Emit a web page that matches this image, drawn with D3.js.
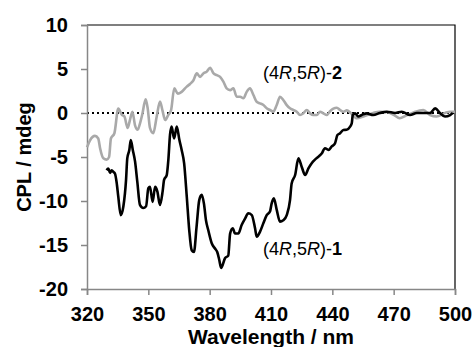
<!DOCTYPE html>
<html>
<head>
<meta charset="utf-8">
<script src="https://cdn.jsdelivr.net/npm/d3@7"></script>
<style>
  html, body { margin: 0; padding: 0; background: #fff; }
  svg { display: block; font-family: "Liberation Sans", Arial, sans-serif; }
</style>
</head>
<body>
<div id="chart"></div>
<script>
// (4R,5R)-2 spectrum (gray)
const grayWl = [320, 321.5, 323.9, 325.5, 326.4, 328, 329.6, 330.8, 331.7, 333.4, 335.3, 337, 338.3, 339.9, 341, 342.2,
  343.5, 344.8, 345.9, 347, 348.7, 349.7, 350.8, 352.4, 354.1, 355.7, 356.9, 358.2, 359.8, 361.1, 362.7, 364.4,
  366.3, 368.8, 370.4, 372, 373.7, 375.3, 376.9, 378.6, 380.2, 381.9, 383.5, 385.1, 386.7, 388.3, 390, 391.6,
  393.2, 394.9, 396.5, 398.1, 399.7, 401.4, 403, 404.6, 406.3, 407.9, 409.5, 411.1, 412.8, 414.4, 416, 417.7,
  419.3, 420.9, 422.6, 424.2, 425.8, 427.5, 429.1, 430.7, 432.4, 434, 435.6, 437.3, 438.9, 440.5, 442.2, 443.8,
  445.4, 447.1, 449, 452, 455.2, 460, 463, 467, 470, 473, 476, 480, 484.5, 487.8, 491, 495.1, 497.6, 500];
const grayCpl = [-3.9, -3.1, -2.6, -2.9, -4.0, -5.15, -5.3, -5.0, -2.9, -2.3, 0.5, -0.2, -0.4, -1.7, -0.8, 0.15,
  -1.4, -1.9, -1.2, -0.2, 1.55, 0.5, -1.7, -2.3, -0.4, 1.3, 0.3, -0.8, -0.2, 0.3, 2.8, 2.2,
  2.4, 3.0, 3.3, 3.7, 4.5, 4.1, 4.5, 4.7, 5.15, 4.5, 4.3, 4.1, 3.56, 2.8, 2.6, 2.8,
  1.85, 1.85, 1.67, 2.4, 2.8, 2.05, 1.28, 1.1, 0.9, 0.53, 0.34, 0.15, 0.9, 1.85, 1.48, 0.9,
  0.53, 0.34, 0.15, -0.23, -0.04, 0.34, -0.04, -0.23, -0.23, 0.15, -0.04, -0.23, 0.2, 0.5, 0.6, 0.34,
  0.15, 0.3, 0, -0.6, -0.4, 0, 0.15, 0.1, -0.2, -0.6, -0.3, 0.1, 0.34, -0.23, -0.4, 0, 0.15, 0.15];

// (4R,5R)-1 spectrum (black)
const blackWl = [329.6, 330.4, 331.3, 332.1, 332.9, 333.7, 334.5, 335.3, 336.5, 337.8, 339.1, 339.7, 340.7, 341.4,
  342.4, 343.5, 344.6, 345.9, 347.5, 348.9, 350, 350.8, 352.1, 353.3, 354.4, 355.7, 357, 357.7, 359, 359.8,
  360.6, 361.4, 362.6, 363.9, 365.2, 366.3, 367.5, 368.8, 370, 371.2, 372.3, 373.6, 374.9, 376.1, 377.2, 378.2,
  379.3, 381, 382.6, 383.7, 384.7, 385.6, 387.5, 389.1, 390, 391.3, 392.4, 394, 395.7, 397.3, 398.9, 400.6,
  402.2, 403, 404.6, 406.3, 407.9, 409.5, 410.3, 411.4, 412.8, 414.4, 416, 417.7, 419.3, 420.1, 421.8, 423.4,
  425, 426.7, 428.3, 429.9, 431.5, 433.2, 434.8, 436.4, 438.1, 439.7, 441.3, 442.5, 443.8, 445.4, 447, 448.7,
  449.5, 450, 451.1, 452.7, 454.4, 456.8, 460, 463.3, 466.6, 470.7, 474, 478, 481.3, 484.5, 487.8, 490.3,
  492.7, 495.1, 497.6, 498.9];
const blackCpl = [-6.5, -6.3, -6.8, -6.5, -6.7, -6.9, -7.9, -9.5, -11.6, -10.6, -7.6, -5.15, -4.2, -3.07,
  -4.2, -5.5, -7.8, -10.45, -10.8, -10.6, -8.55, -8.4, -10.1, -8.4, -8.9, -10.45, -8.9, -7.6, -7.05, -5.3,
  -2.5, -1.55, -2.9, -1.55, -3.07, -4.2, -5.7, -9.5, -13.3, -15.6, -15.8, -12.9, -9.9, -9.3, -10.3, -12.2,
  -13.3, -14.8, -15.4, -15.8, -16.7, -17.6, -16.5, -16.2, -13.7, -13.1, -13.7, -13.7, -12.7, -12.0, -11.4, -11.6,
  -13.1, -14.05, -13.5, -12.5, -11.6, -11.2, -10.3, -9.7, -11.0, -12.35, -12.2, -11.6, -9.9, -8.0, -7.05, -5.15,
  -6.1, -7.05, -6.3, -5.7, -5.3, -4.97, -4.6, -4.0, -4.2, -3.8, -3.45, -2.5, -2.3, -1.93, -1.9, -1.55,
  -1.17, -0.23, -0.04, -0.4, -0.23, -0.04, -0.23, 0, 0.15, 0, 0.15, -0.23, 0, 0, 0, 0.53,
  0, -0.4, -0.23, 0];

const xTicks = [320, 350, 380, 410, 440, 470, 500];
const yTicks = [-20, -15, -10, -5, 0, 5, 10];

const width = 474;
const height = 347;
const margin = { top: 25, right: 19, bottom: 58, left: 87 };

const svg = d3.select('#chart')
  .append('svg')
  .attr('width', width)
  .attr('height', height);

const x = d3.scaleLinear([320, 500], [margin.left, width - margin.right]);
const y = d3.scaleLinear([-20, 10], [height - margin.bottom, margin.top]);

const axisGray = '#878787';

// frame on top and right
svg.append('path')
  .attr('d', `M${x(320)},${y(10)}H${x(500)}V${y(-20)}`)
  .attr('fill', 'none')
  .attr('stroke', '#000')
  .attr('stroke-width', 1.2);

// zero line
svg.append('line')
  .attr('x1', x(320)).attr('x2', x(500))
  .attr('y1', y(0)).attr('y2', y(0))
  .attr('stroke', '#000')
  .attr('stroke-width', 2)
  .attr('stroke-dasharray', '2,3');

// axes (plain hyphen for negatives, like the original)
const fmt = d => String(d);
const xAxis = svg.append('g')
  .attr('transform', `translate(0,${y(-20)})`)
  .call(d3.axisBottom(x).tickValues(xTicks).tickFormat(fmt).tickSizeOuter(0).tickSize(6).tickPadding(12));
const yAxis = svg.append('g')
  .attr('transform', `translate(${x(320)},0)`)
  .call(d3.axisLeft(y).tickValues(yTicks).tickFormat(fmt).tickSizeOuter(0).tickSize(6).tickPadding(13));

[xAxis, yAxis].forEach(g => {
  g.select('.domain').attr('stroke', axisGray).attr('stroke-width', 1.5);
  g.selectAll('.tick line').attr('stroke', axisGray).attr('stroke-width', 1.5);
  g.selectAll('.tick text')
    .attr('fill', '#000')
    .style('font-size', '20px')
    .style('font-weight', 'bold')
    .style('font-family', '"Liberation Sans", Arial, sans-serif');
});

const line = (xs, ys) => d3.line()
  .x((d, i) => x(xs[i]))
  .y(d => y(d))
  .curve(d3.curveMonotoneX)(ys);

svg.append('path')
  .attr('d', line(grayWl, grayCpl))
  .attr('fill', 'none')
  .attr('stroke', '#a9a9a9')
  .attr('stroke-width', 2.6)
  .attr('stroke-linejoin', 'round');

svg.append('path')
  .attr('d', line(blackWl, blackCpl))
  .attr('fill', 'none')
  .attr('stroke', '#000')
  .attr('stroke-width', 2.6)
  .attr('stroke-linejoin', 'round');

// compound labels
function compoundLabel(px, py, num) {
  const t = svg.append('text')
    .attr('x', px).attr('y', py)
    .style('font-size', '18px');
  t.append('tspan').text('(4');
  t.append('tspan').style('font-style', 'italic').text('R');
  t.append('tspan').text(',5');
  t.append('tspan').style('font-style', 'italic').text('R');
  t.append('tspan').text(')-');
  t.append('tspan').style('font-weight', 'bold').text(num);
}
compoundLabel(263, 79, '2');
compoundLabel(263, 255, '1');

// axis titles
svg.append('text')
  .attr('x', (x(320) + x(500)) / 2)
  .attr('y', 344)
  .attr('text-anchor', 'middle')
  .style('font-size', '21px')
  .style('font-weight', 'bold')
  .text('Wavelength / nm');

svg.append('text')
  .attr('transform', `translate(31,${(y(10) + y(-20)) / 2}) rotate(-90)`)
  .attr('text-anchor', 'middle')
  .style('font-size', '20px')
  .style('font-weight', 'bold')
  .text('CPL / mdeg');
</script>
</body>
</html>
